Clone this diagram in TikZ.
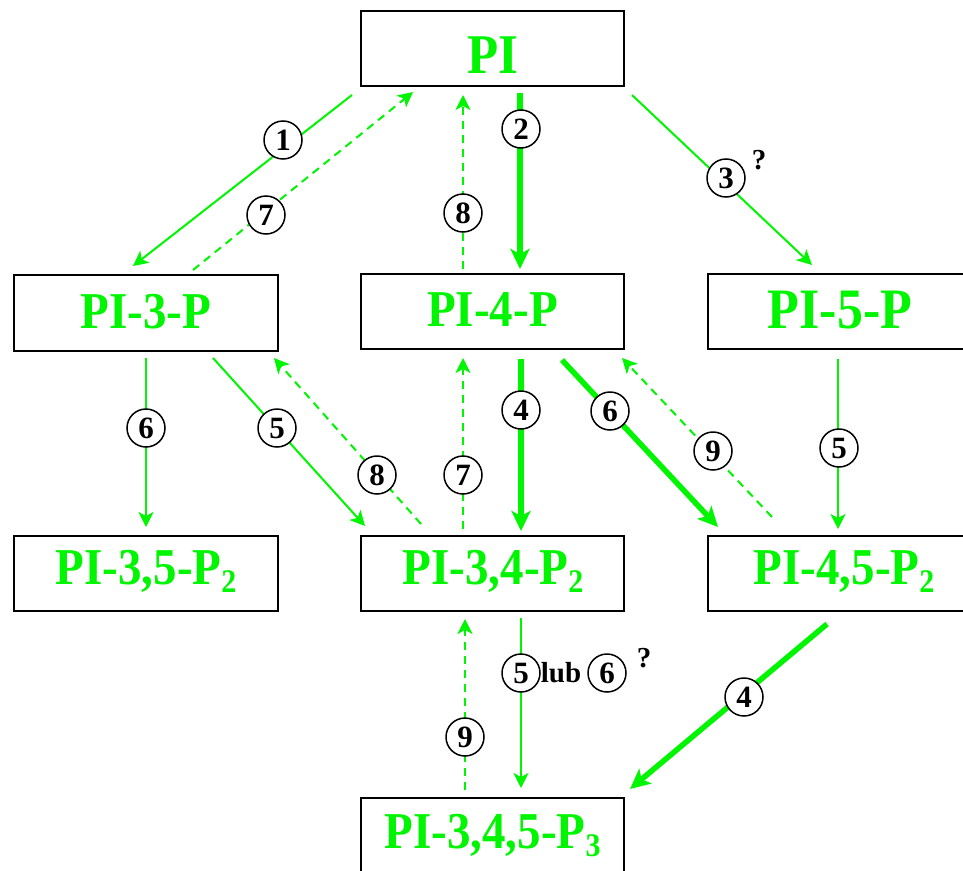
\documentclass[tikz,border=0pt]{standalone}
\usepackage{fontspec}
\setmainfont{Liberation Serif}
\usetikzlibrary{arrows.meta,calc}
\definecolor{grn}{RGB}{0,245,0}
\newcommand\subsc[1]{\raisebox{-8pt}{\fontsize{30}{30}\selectfont #1}}
\newcommand\tallt[1]{\scalebox{1}[1.1]{#1}}
\begin{document}
\begin{tikzpicture}[x=1pt,y=-1pt,
  box/.style={draw=black, line width=2pt, minimum width=263pt, minimum height=75pt, inner sep=0pt},
  lab/.style={anchor=base, text=grn, inner sep=0pt, font=\fontsize{47}{50}\selectfont\bfseries},
  circ/.style={circle, draw=black, line width=1.5pt, fill=white, minimum size=38pt, inner sep=0pt, font=\fontsize{31}{32}\selectfont\bfseries},
  note/.style={anchor=base, inner sep=0pt, font=\fontsize{29}{30}\selectfont\bfseries},
  thinar/.style={draw=grn, line width=2pt, -{Stealth[length=15pt,width=15pt,inset=4pt]}},
  thickar/.style={draw=grn, line width=5.5pt, -{Stealth[length=20pt,width=19pt,inset=5pt]}},
  dashar/.style={thinar, dash pattern=on 8pt off 6pt}]
\useasboundingbox (0,0) rectangle (963,870);
\clip (0,0) rectangle (963,870);
% boxes
\node[box] (PI) at (492.5,48.5) {};
\node[box, minimum width=264pt, minimum height=76pt] (P3) at (146,313) {};
\node[box] (P4) at (492.5,311.5) {};
\node[box, minimum width=267pt] (P5) at (841.5,311.5) {};
\node[box, minimum width=264pt] (P35) at (146,573.5) {};
\node[box] (P34) at (492.5,573.5) {};
\node[box, minimum width=267pt] (P45) at (841.5,573.5) {};
\node[box, minimum height=102pt] (P345) at (492.5,849) {};
% labels
\node[lab, font=\fontsize{51}{54}\selectfont\bfseries] (tPI) at (492.5,73) {\tallt{PI}};
\node[lab] (tP3) at (146,328) {\tallt{PI-3-P}};
\node[lab] (tP4) at (492.5,326) {\tallt{PI-4-P}};
\node[lab, font=\fontsize{52}{54}\selectfont\bfseries] (tP5) at (840,328) {\tallt{PI-5-P}};
\node[lab] (tP35) at (146,584) {\tallt{PI-3,5-P\subsc{2}}};
\node[lab] (tP34) at (493,584) {\tallt{PI-3,4-P\subsc{2}}};
\node[lab] (tP45) at (844,584) {\tallt{PI-4,5-P\subsc{2}}};
\node[lab] (tP345) at (492.5,848) {\tallt{PI-3,4,5-P\subsc{3}}};
% connectors
\draw[thinar] ($(PI.south west)+(-8,8)$) -- ($(P3.north)+(-13,-8)$);
\draw[dashar] ($(P3.north)+(47,-4)$) -- ($(PI.south west)+(53,5)$);
\draw[thickar] ($(PI.south)+(27.5,6)$) -- ($(P4.north)+(27.5,-4)$);
\draw[dashar] ($(P4.north)+(-29.5,-4)$) -- ($(PI.south)+(-29.5,8)$);
\draw[thinar] ($(PI.south east)+(7,8)$) -- ($(P5.north west)+(105,-8)$);
\draw[thinar] ($(P3.south)+(0,6)$) -- ($(P35.north)+(0,-8)$);
\draw[thinar] ($(P3.south)+(67,6)$) -- ($(P34.north west)+(5,-9)$);
\draw[dashar] ($(P34.north west)+(61,-11)$) -- ($(P3.south east)+(-5,6)$);
\draw[dashar] ($(P34.north)+(-29.5,-6)$) -- ($(P4.south)+(-29.5,8)$);
\draw[thickar] ($(P4.south)+(28.5,9)$) -- ($(P34.north)+(28.5,-4)$);
\draw[thickar] ($(P4.south)+(69.5,10)$) -- ($(P45.north west)+(11,-8)$);
\draw[dashar] ($(P45.north west)+(65,-18)$) -- ($(P4.south east)+(-3,8)$);
\draw[thinar] ($(P5.south west)+(131,9)$) -- ($(P45.north west)+(131,-6)$);
\draw[dashar] ($(P345.north)+(-27.5,-7)$) -- ($(P34.south)+(-27.5,7)$);
\draw[thinar] ($(P34.south)+(28.5,6)$) -- ($(P345.north)+(28.5,-9)$);
\draw[thickar] ($(P45.south west)+(120,12)$) -- ($(P345.north east)+(5,-8)$);
% step numbers
\node[circ] (c1) at (283,140) {1};
\node[circ] (c7a) at (266,215) {7};
\node[circ] (c2) at (521,129) {2};
\node[circ] (c8a) at (463,213) {8};
\node[circ] (c3) at (726,178) {3};
\node[note] (q1) at (759,169) {?};
\node[circ] (c6a) at (146,428) {6};
\node[circ] (c5a) at (277,428) {5};
\node[circ] (c8b) at (377,475) {8};
\node[circ] (c7b) at (463,475) {7};
\node[circ] (c4a) at (521,410) {4};
\node[circ] (c6b) at (610,411) {6};
\node[circ] (c9a) at (713,451) {9};
\node[circ] (c5b) at (839,448) {5};
\node[circ] (c9b) at (465,737) {9};
\node[circ] (c5c) at (521,673) {5};
\node[note] (lub) at (561,682) {lub};
\node[circ] (c6c) at (607,673) {6};
\node[note] (q2) at (644,667) {?};
\node[circ] (c4b) at (744,697) {4};
\end{tikzpicture}
\end{document}
